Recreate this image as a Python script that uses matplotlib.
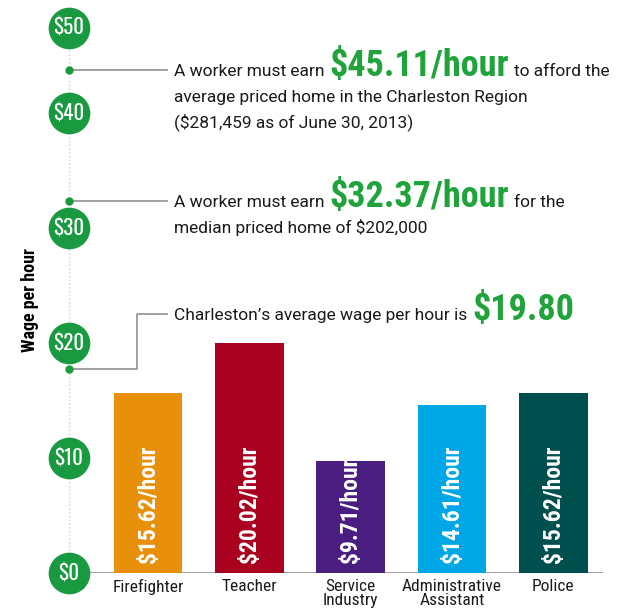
import numpy as np
import matplotlib
matplotlib.use("Agg")
import matplotlib.pyplot as plt
from matplotlib.transforms import IdentityTransform
from matplotlib.lines import Line2D

# data
jobs = ["Firefighter", "Teacher", "Service\nIndustry", "Administrative\nAssistant", "Police"]
wages = [15.62, 20.02, 9.71, 14.61, 15.62]
bar_labels = ["$15.62/hour", "$20.02/hour", "$9.71/hour", "$14.61/hour", "$15.62/hour"]
bar_colors = ["#e8900a", "#a8001e", "#4a1d80", "#00a7e6", "#004f4f"]
ticks = [0, 10, 20, 30, 40, 50]
tick_labels = ["$0", "$10", "$20", "$30", "$40", "$50"]

afford_avg = 45.11
afford_med = 32.37
avg_wage = 19.80

green = "#1a9a40"
green_txt = "#1fa33a"
dark = "#1a1a1a"
gray = "#9a9a9a"

body = ["Roboto", "DejaVu Sans"]
cond = ["Roboto Condensed", "DejaVu Sans"]
gothic = ["Oswald", "DejaVu Sans"]

W, H = 627, 613
fig = plt.figure(figsize=(W / 100, H / 100), dpi=100)
ax = fig.add_axes([69 / W, 40 / H, (603 - 69) / W, (585 - 40) / H])


# the top step ($40 -> $50) is drawn shorter than the others
def fwd(y):
    y = np.asarray(y, dtype=float)
    return np.where(y <= 40, y, 40 + (y - 40) * 0.74)


def inv(t):
    t = np.asarray(t, dtype=float)
    return np.where(t <= 40, t, 40 + (t - 40) / 0.74)


ax.set_yscale("function", functions=(fwd, inv))
ax.set_ylim(0, 50)
ax.set_xlim(-0.78, 4.49)

x = np.arange(len(jobs))
ax.bar(x, wages, width=0.68, color=bar_colors, zorder=2)
for xi, lab in zip(x, bar_labels):
    ax.annotate(lab, (xi, 0), xytext=(0, 10), textcoords="offset pixels",
                rotation=90, ha="center", va="bottom", color="white",
                fontsize=17, fontweight="bold", family=cond, zorder=3)

for s in ax.spines.values():
    s.set_visible(False)
ax.set_yticks([])
ax.set_xticks(x)
ax.set_xticklabels(jobs, fontsize=12.5, family=cond, color=dark, linespacing=0.95)
ax.tick_params(axis="x", length=0, pad=4)
ax.patch.set_alpha(0)

# baseline and dotted axis
ax.axhline(0, xmin=20 / 534, xmax=1, color=gray, lw=1.3, zorder=1)
ax.plot([-0.78, -0.78], [0, 50], color="#c8c8c8", lw=0.9, ls=(0, (1, 2)),
        clip_on=False, zorder=1)

# green circle ticks
ax.plot([-0.78] * len(ticks), ticks, "o", ms=29, color=green, clip_on=False, zorder=5)
for t, lab in zip(ticks, tick_labels):
    ax.text(-0.78, t, lab, ha="center", va="center", color="white", fontsize=15,
            family=gothic, clip_on=False, zorder=6)

fig.text(30 / W, 1 - 300 / H, "Wage per hour", rotation=90, ha="center", va="center",
         fontsize=13, fontweight="bold", family=cond, color="black")

# annotations
fig.canvas.draw()
x0 = ax.transAxes.transform((0, 0))[0]


def ypix(v):
    return ax.transData.transform((0, v))[1]


def connector(pts):
    fig.add_artist(Line2D([p[0] for p in pts], [p[1] for p in pts], color=gray,
                          lw=1.3, transform=IdentityTransform(), zorder=4))
    fig.add_artist(Line2D([pts[0][0]], [pts[0][1]], marker="o", ms=5, color=green,
                          transform=IdentityTransform(), zorder=7))


def rich_line(xp, yp, parts):
    prev = None
    for txt, big in parts:
        kw = dict(color=green_txt if big else dark,
                  fontsize=26 if big else 12.5,
                  fontweight="bold" if big else "normal",
                  family=cond if big else body, va="baseline", ha="left")
        if prev is None:
            t = fig.text(xp / W, yp / H, txt, **kw)
        else:
            t = fig.text(0, 0, txt, **kw)
            fig.canvas.draw()
            bb = prev.get_window_extent()
            t.set_position(((bb.x1 + 5) / W, yp / H))
        prev = t


tx = 174
# $45.11
y1 = ypix(afford_avg)
connector([(x0, y1), (167, y1)])
rich_line(tx, y1 - 6, [("A worker must earn", False), ("$45.11/hour", True), ("to afford the", False)])
rich_line(tx, y1 - 32, [("average priced home in the Charleston Region", False)])
rich_line(tx, y1 - 58, [("($281,459 as of June 30, 2013)", False)])

# $32.37
y2 = ypix(afford_med)
connector([(x0, y2), (167, y2)])
rich_line(tx, y2 - 6, [("A worker must earn", False), ("$32.37/hour", True), ("for the", False)])
rich_line(tx, y2 - 32, [("median priced home of $202,000", False)])

# $19.80 (dot set just below the $20 circle)
y3 = ypix(avg_wage) - 24
yt = y3 + 55
connector([(x0, y3), (137, y3), (137, yt), (167, yt)])
rich_line(tx, yt - 6, [("Charleston\u2019s average wage per hour is", False), ("$19.80", True)])

fig.savefig("out.png", dpi=100)
